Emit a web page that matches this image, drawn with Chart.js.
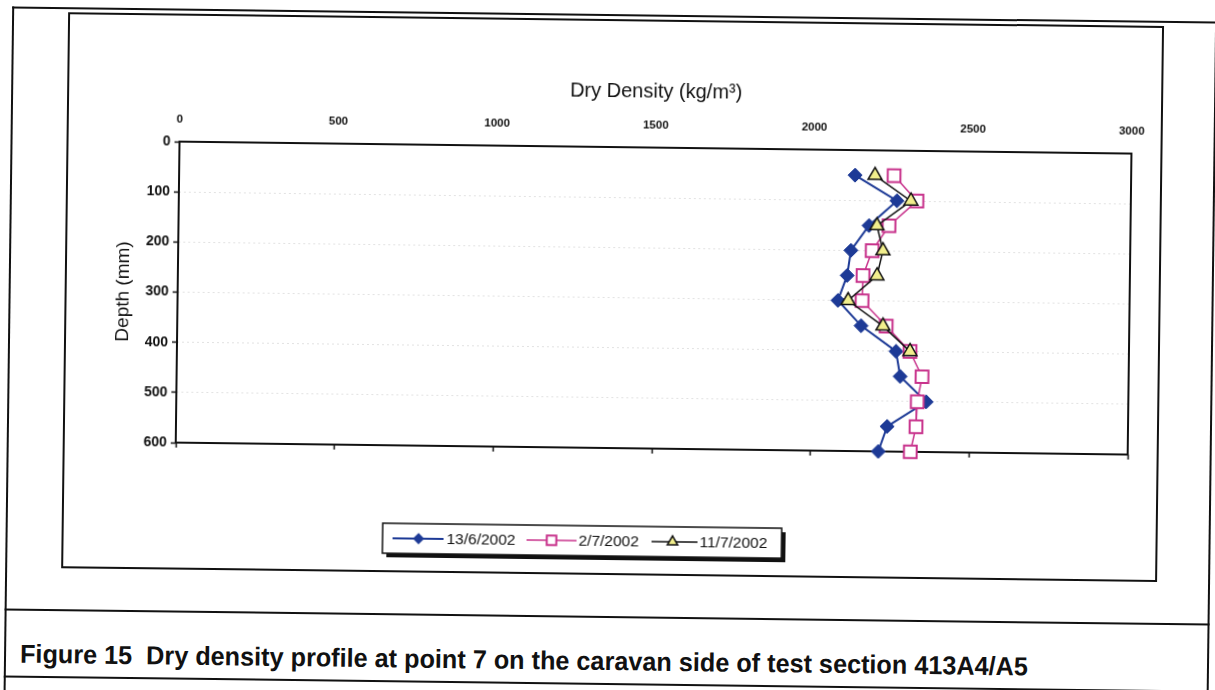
<!DOCTYPE html>
<html>
<head>
<meta charset="utf-8">
<script src="https://cdn.jsdelivr.net/npm/chart.js@4.4.1/dist/chart.umd.min.js"></script>
<style>
  html, body { margin: 0; padding: 0; background: #fff; overflow: hidden; }
  #page {
    position: relative; width: 1215px; height: 690px;
    transform: rotate(0.72deg); transform-origin: 607px 345px;
    font-family: "Liberation Sans", Arial, sans-serif; color: #111;
  }
  #outer { position: absolute; left: 8px; top: 14px; width: 1205px; height: 720px;
           border: 2px solid #111; border-bottom: none; box-sizing: border-box; }
  .hline { position: absolute; left: 8px; width: 1205px; height: 0; border-top: 2px solid #111; }
  #chartBox { position: absolute; left: 64px; top: 19px; width: 1096px; height: 556px;
              border: 2px solid #111; box-sizing: border-box; }
  #chartBox canvas { position: absolute; left: 0; top: 0; }
  #caption { position: absolute; left: 24px; top: 646px; white-space: nowrap;
             font-weight: bold; font-size: 26px; transform-origin: 0 50%; }
</style>
</head>
<body>
<div id="page">
  <div id="outer"></div>
  <div class="hline" style="top:616px"></div>
  <div class="hline" style="top:683px"></div>
  <div id="chartBox"><canvas id="myChart" width="1092" height="552"></canvas></div>
  <span id="caption">Figure 15&nbsp; Dry density profile at point 7 on the caravan side of test section 413A4/A5</span>
</div>
<script>
// Data
const depths = [50, 100, 150, 200, 250, 300, 350, 400, 450, 500, 550, 600];
const density13Jun = [2130, 2263, 2176, 2120, 2109, 2081, 2155, 2266, 2280, 2363, 2241, 2214];
const density2Jul = [2253, 2326, 2239, 2187, 2159, 2157, 2234, 2310, 2349, 2335, 2332, 2315];
const density11Jul = [2193, 2307, 2201, 2221, 2203, 2113, 2224, 2310];
const seriesLabels = ['13/6/2002', '2/7/2002', '11/7/2002'];

const toPoints = (vals) => vals.map((v, i) => ({ x: v, y: depths[i] }));

const FONT = '"Liberation Sans", Arial, sans-serif';

// caption squeezed to match the narrow bold face of the scan
const cap = document.getElementById('caption');
cap.style.transform = 'scaleX(' + (1008 / cap.offsetWidth) + ')';

// plot frame drawn under the markers
const frame = {
    id: 'frame',
    beforeDatasetsDraw(chart) {
        const { ctx, chartArea: a } = chart;
        ctx.save();
        ctx.strokeStyle = '#111';
        ctx.lineWidth = 2;
        ctx.strokeRect(a.left, a.top, a.right - a.left, a.bottom - a.top);
        ctx.restore();
    }
};

// excel style legend: box with shadow, line with marker
const legendBox = {
    id: 'legendBox',
    afterDraw(chart) {
        const ctx = chart.ctx;
        const bx = 319, by = 505, bw = 399, bh = 30;
        ctx.save();
        ctx.fillStyle = '#111';
        ctx.fillRect(bx + 4, by + 4, bw, bh);
        ctx.fillStyle = '#fff';
        ctx.fillRect(bx, by, bw, bh);
        ctx.strokeStyle = '#111';
        ctx.lineWidth = 1.5;
        ctx.strokeRect(bx, by, bw, bh);

        const items = [
            { x0: 329, x1: 380, mx: 355, tx: 383 },
            { x0: 463, x1: 513, mx: 488, tx: 515 },
            { x0: 588, x1: 634, mx: 609, tx: 636 },
        ];
        const cy = 520;
        chart.data.datasets.forEach((ds, i) => {
            const it = items[i];
            ctx.strokeStyle = ds.borderColor;
            ctx.lineWidth = ds.borderWidth;
            ctx.beginPath();
            ctx.moveTo(it.x0, cy);
            ctx.lineTo(it.x1, cy);
            ctx.stroke();
            ctx.fillStyle = ds.pointBackgroundColor;
            ctx.strokeStyle = ds.pointBorderColor;
            ctx.lineWidth = ds.pointBorderWidth;
            Chart.helpers.drawPoint(ctx, {
                pointStyle: ds.pointStyle,
                radius: ds.pointRadius * 0.75,
                rotation: 0,
                borderWidth: ds.pointBorderWidth
            }, it.mx, cy);
            ctx.fillStyle = '#111';
            ctx.font = '15.5px ' + FONT;
            ctx.textBaseline = 'middle';
            ctx.fillText(ds.label, it.tx, cy + 1);
        });
        ctx.restore();
    }
};

const ctx = document.getElementById('myChart').getContext('2d');

const data = {
    datasets: [{
        label: seriesLabels[0],
        data: toPoints(density13Jun),
        borderColor: '#1d3a96',
        borderWidth: 2,
        pointStyle: 'rectRot',
        pointRadius: 7,
        pointBackgroundColor: '#1d3a96',
        pointBorderColor: '#1d3a96',
        pointBorderWidth: 1,
        order: 2,
    }, {
        label: seriesLabels[1],
        data: toPoints(density2Jul),
        borderColor: '#c8338c',
        borderWidth: 1.5,
        pointStyle: 'rect',
        pointRadius: 9,
        pointBackgroundColor: '#ffffff',
        pointBorderColor: '#c8338c',
        pointBorderWidth: 2,
        order: 1,
    }, {
        label: seriesLabels[2],
        data: toPoints(density11Jul),
        borderColor: '#111111',
        borderWidth: 1.5,
        pointStyle: 'triangle',
        pointRadius: 8,
        pointBackgroundColor: '#f1ee8c',
        pointBorderColor: '#111111',
        pointBorderWidth: 1.5,
        order: 0,
    }],
};

const plain = (v) => String(v);

const options = {
    responsive: false,
    animation: false,
    devicePixelRatio: 1,
    layout: { padding: { left: 0, top: 0, right: 29, bottom: 115 } },
    plugins: { legend: { display: false }, tooltip: { enabled: false } },
    datasets: { scatter: { showLine: true, clip: false, fill: false, tension: 0 } },
    scales: {
        x: {
            type: 'linear',
            position: 'top',
            min: 0,
            max: 3000,
            ticks: { stepSize: 500, color: '#111', padding: 15, callback: plain,
                     font: { family: FONT, size: 11.5, weight: 'bold' } },
            grid: { drawOnChartArea: false, drawTicks: false },
            border: { display: false },
            title: {
                display: true,
                text: 'Dry Density (kg/m³)',
                color: '#111',
                font: { family: FONT, size: 20 },
                padding: { top: 58, bottom: 0 },
            },
            afterFit: (s) => { s.height = 126; },
        },
        x2: {
            type: 'linear',
            position: 'bottom',
            min: 0,
            max: 3000,
            ticks: { stepSize: 500, display: false },
            grid: { drawOnChartArea: false, drawTicks: true, tickLength: 5, tickColor: '#111', tickWidth: 1.5 },
            border: { display: false },
            afterFit: (s) => { s.height = 10; },
        },
        y: {
            type: 'linear',
            reverse: true,
            min: 0,
            max: 600,
            ticks: { stepSize: 100, color: '#111', padding: 4, callback: plain,
                     font: { family: FONT, size: 14, weight: 'bold' } },
            grid: { color: '#e2e2e2', lineWidth: 1, tickLength: 5, tickColor: '#111', tickWidth: 1.5 },
            border: { display: false, dash: [2, 3] },
            title: {
                display: true,
                text: 'Depth (mm)',
                color: '#111',
                font: { family: FONT, size: 19 },
                padding: { top: 45, bottom: 0 },
            },
            afterFit: (s) => { s.width = 111; },
        },
    },
};

const myChart = new Chart(ctx, {
    type: 'scatter',
    data: data,
    options: options,
    plugins: [frame, legendBox],
});
</script>
</body>
</html>
